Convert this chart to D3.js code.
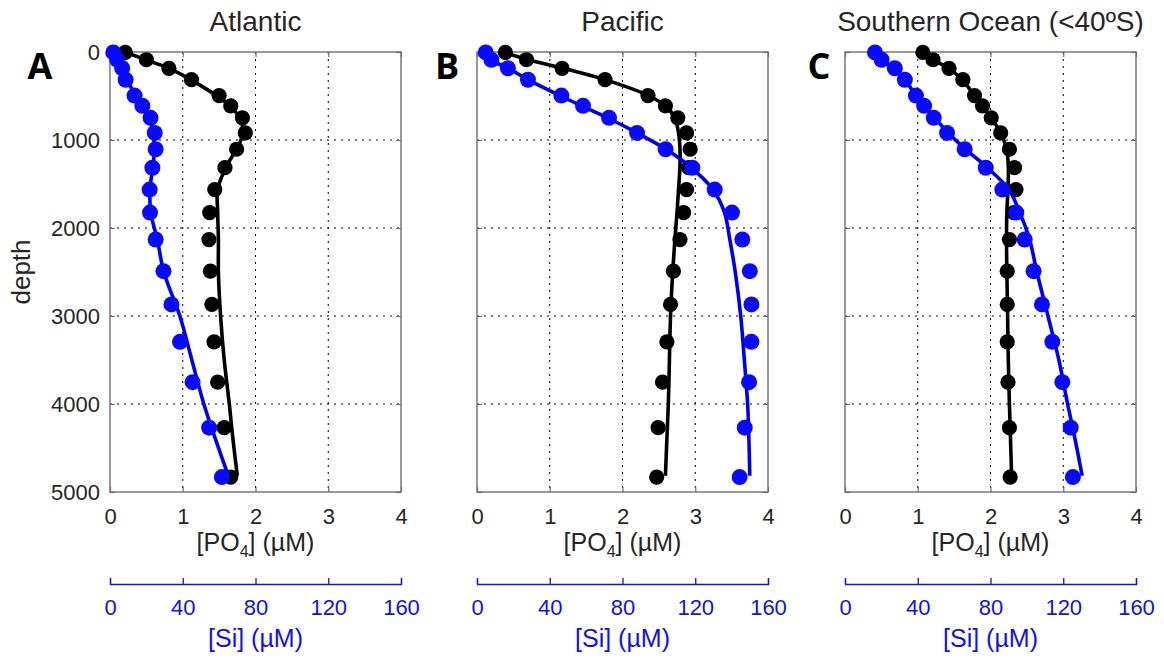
<!DOCTYPE html>
<html>
<head>
<meta charset="utf-8">
<title>PO4 and Si depth profiles</title>
<style>
  body { margin: 0; background: #fff; }
  svg text { font-family: "Liberation Sans", Arial, Helvetica, sans-serif; }
  .grid line { stroke: #000; stroke-width: 1; stroke-dasharray: 2,5; }
  .axis path { display: none; }
  .axis line { stroke: #6e6e6e; stroke-width: 1.2; }
  .axis text { fill: #262626; font-size: 22px; }
  .siaxis path, .siaxis line { stroke: #1111ee; stroke-width: 1.3; }
  .siaxis text { fill: #1111ee; font-size: 22px; }
</style>
<script src="https://cdnjs.cloudflare.com/ajax/libs/d3/7.8.5/d3.min.js"></script>
</head>
<body>
<div id="chart"></div>
<script>
// observation depths (m), shared by all three basins
const depths = [5, 88, 185, 315, 495, 612, 748, 920, 1105, 1315, 1563, 1825, 2131, 2491, 2868, 3293, 3752, 4269, 4830];
// depths at which the model curves are read
const modelDepths = [0, 100, 200, 320, 500, 620, 750, 920, 1100, 1300, 1560, 1820, 2130, 2500, 3000, 3500, 4000, 4400, 4815];

const po4Ticks = [0, 1, 2, 3, 4];
const siTicks = [0, 40, 80, 120, 160];
const depthTicks = [0, 1000, 2000, 3000, 4000, 5000];

// Atlantic
const atlanticPO4 = [0.21, 0.5, 0.81, 1.12, 1.5, 1.66, 1.82, 1.86, 1.74, 1.58, 1.44, 1.37, 1.36, 1.38, 1.40, 1.43, 1.48, 1.57, 1.66];
const atlanticSi = [1.8, 4, 6.7, 8.6, 13.5, 17.8, 22.3, 24.6, 25.1, 23.3, 21.8, 22, 25.1, 29.4, 33.8, 38.5, 45.4, 54.5, 61.5];
const atlanticPO4Model = [0.2, 0.53, 0.85, 1.12, 1.47, 1.66, 1.78, 1.83, 1.74, 1.6, 1.48, 1.48, 1.49, 1.49, 1.52, 1.57, 1.64, 1.69, 1.75];
const atlanticSiModel = [1.6, 4.4, 7.2, 9.5, 14.4, 18.4, 21.6, 23.6, 24.4, 23.6, 22, 22.4, 26, 29.6, 38.4, 45, 51.6, 58, 65];

// Pacific
const pacificPO4 = [0.39, 0.68, 1.17, 1.76, 2.35, 2.59, 2.76, 2.88, 2.93, 2.91, 2.88, 2.84, 2.79, 2.70, 2.66, 2.61, 2.55, 2.49, 2.47];
const pacificSi = [4.8, 7.9, 17, 28, 46.4, 58.3, 72.6, 88, 103.7, 118.4, 130.7, 140.2, 145.9, 150, 150.9, 150.9, 149.6, 147.2, 144.4];
const pacificPO4Model = [0.36, 0.76, 1.25, 1.78, 2.37, 2.6, 2.72, 2.77, 2.79, 2.79, 2.77, 2.75, 2.72, 2.69, 2.66, 2.645, 2.63, 2.61, 2.59];
const pacificSiModel = [4, 8.8, 18.5, 28.5, 46, 58.4, 72, 88, 103.5, 117, 129.6, 136, 139, 142, 145, 147, 148.8, 149.5, 150];

// Southern Ocean
const southernPO4 = [1.07, 1.21, 1.43, 1.62, 1.78, 1.89, 2.01, 2.14, 2.26, 2.33, 2.35, 2.32, 2.26, 2.23, 2.23, 2.23, 2.24, 2.26, 2.27];
const southernSi = [16.5, 20.1, 27.4, 32.9, 39, 43.5, 48.8, 56.1, 65.8, 77.4, 86.5, 94.2, 98.8, 103.7, 108.3, 114, 119.5, 124.1, 125.3];
const southernPO4Model = [1.07, 1.24, 1.45, 1.62, 1.78, 1.9, 2.01, 2.14, 2.22, 2.245, 2.24, 2.225, 2.22, 2.225, 2.235, 2.245, 2.26, 2.275, 2.29];
const southernSiModel = [16, 20.5, 27, 33, 39.2, 44, 49.5, 56.8, 66, 77.5, 90, 96, 101.5, 105.5, 111.6, 117.6, 122.4, 126.5, 130.4];

const regions = [
  { title: "Atlantic", letter: "A", po4: atlanticPO4, si: atlanticSi, po4Model: atlanticPO4Model, siModel: atlanticSiModel },
  { title: "Pacific", letter: "B", po4: pacificPO4, si: pacificSi, po4Model: pacificPO4Model, siModel: pacificSiModel },
  { title: "Southern Ocean (<40ºS)", letter: "C", po4: southernPO4, si: southernSi, po4Model: southernPO4Model, siModel: southernSiModel }
];

const w = 1164, h = 660;
const lefts = [110, 477, 845];
const letterX = [40, 447, 819];
const plotW = 291;
const plotTop = 52, plotBottom = 492;
const blue = "#0000f0";

const svg = d3.select("#chart").append("svg")
  .attr("width", w)
  .attr("height", h);

const y = d3.scaleLinear().domain([0, 5000]).range([plotTop, plotBottom]);

regions.forEach(function (r, i) {
  const x0 = lefts[i];
  const x = d3.scaleLinear().domain([0, 4]).range([x0, x0 + plotW]);
  const xs = d3.scaleLinear().domain([0, 160]).range([x0, x0 + plotW]);
  const g = svg.append("g");

  // dotted grid
  const grid = g.append("g").attr("class", "grid");
  grid.selectAll("line.v").data(po4Ticks.slice(1, -1)).enter().append("line")
    .attr("x1", d => x(d)).attr("x2", d => x(d))
    .attr("y1", plotTop).attr("y2", plotBottom);
  grid.selectAll("line.h").data(depthTicks.slice(1, -1)).enter().append("line")
    .attr("x1", x0).attr("x2", x0 + plotW)
    .attr("y1", d => y(d)).attr("y2", d => y(d));

  // box
  g.append("rect")
    .attr("x", x0).attr("y", plotTop)
    .attr("width", plotW).attr("height", plotBottom - plotTop)
    .attr("fill", "none").attr("stroke", "#6e6e6e").attr("stroke-width", 1.4);

  // ticks on all four sides, pointing inside
  const bx = g.append("g").attr("class", "axis")
    .attr("transform", "translate(0," + plotBottom + ")")
    .call(d3.axisBottom(x).tickValues(po4Ticks).tickSizeInner(-5).tickSizeOuter(0).tickPadding(16).tickFormat(d3.format("d")));
  bx.selectAll("text").attr("dy", "0.71em");
  g.append("g").attr("class", "axis")
    .attr("transform", "translate(0," + plotTop + ")")
    .call(d3.axisTop(x).tickValues(po4Ticks).tickSizeInner(-5).tickSizeOuter(0).tickFormat(""));
  const ly = g.append("g").attr("class", "axis")
    .attr("transform", "translate(" + x0 + ",0)")
    .call(d3.axisLeft(y).tickValues(depthTicks).tickSizeInner(-5).tickSizeOuter(0).tickPadding(10).tickFormat(d3.format("d")));
  if (i > 0) ly.selectAll("text").remove();
  g.append("g").attr("class", "axis")
    .attr("transform", "translate(" + (x0 + plotW) + ",0)")
    .call(d3.axisRight(y).tickValues(depthTicks).tickSizeInner(-5).tickSizeOuter(0).tickFormat(""));

  // PO4 model and observations
  const po4Line = d3.line()
    .x((d, k) => x(d))
    .y((d, k) => y(modelDepths[k]))
    .curve(d3.curveCatmullRom);
  g.append("path").datum(r.po4Model)
    .attr("d", po4Line)
    .attr("fill", "none").attr("stroke", "#000").attr("stroke-width", 3.6);
  g.selectAll("circle.po4").data(r.po4).enter().append("circle")
    .attr("class", "po4")
    .attr("cx", d => x(d))
    .attr("cy", (d, k) => y(depths[k]))
    .attr("r", 7.6)
    .attr("fill", "#000");

  // Si model and observations
  const siLine = d3.line()
    .x((d, k) => xs(d))
    .y((d, k) => y(modelDepths[k]))
    .curve(d3.curveCatmullRom);
  g.append("path").datum(r.siModel)
    .attr("d", siLine)
    .attr("fill", "none").attr("stroke", blue).attr("stroke-width", 3.6);
  g.selectAll("circle.si").data(r.si).enter().append("circle")
    .attr("class", "si")
    .attr("cx", d => xs(d))
    .attr("cy", (d, k) => y(depths[k]))
    .attr("r", 8)
    .attr("fill", "#0a0aff");

  // second (Si) axis below
  const sa = g.append("g").attr("class", "siaxis")
    .attr("transform", "translate(0,584)")
    .call(d3.axisBottom(xs).tickValues(siTicks).tickSizeInner(-6).tickSizeOuter(-6).tickPadding(15));
  sa.selectAll("path").attr("fill", "none");

  // labels
  const cx = x0 + plotW / 2;
  g.append("text")
    .attr("x", cx).attr("y", 31)
    .attr("text-anchor", "middle")
    .attr("font-size", "28px").attr("fill", "#262626")
    .text(r.title);

  g.append("text")
    .attr("x", letterX[i]).attr("y", 79)
    .attr("text-anchor", "middle")
    .attr("font-size", "36px").attr("font-weight", "bold")
    .style("font-family", "'Open Sans', 'Liberation Sans', Arial, sans-serif")
    .attr("fill", "#000")
    .text(r.letter);

  const xl = g.append("text")
    .attr("x", cx).attr("y", 551)
    .attr("text-anchor", "middle")
    .attr("font-size", "25px").attr("fill", "#262626");
  xl.append("tspan").text("[PO");
  xl.append("tspan").attr("dy", 6).attr("font-size", "16px").text("4");
  xl.append("tspan").attr("dy", -6).text("] (µM)");

  g.append("text")
    .attr("x", cx).attr("y", 647)
    .attr("text-anchor", "middle")
    .attr("font-size", "25px").attr("fill", "#1111ee")
    .text("[Si] (µM)");
});

svg.append("text")
  .attr("transform", "translate(30," + ((plotTop + plotBottom) / 2) + ") rotate(-90)")
  .attr("text-anchor", "middle")
  .attr("font-size", "26px").attr("fill", "#262626")
  .text("depth");
</script>
</body>
</html>
